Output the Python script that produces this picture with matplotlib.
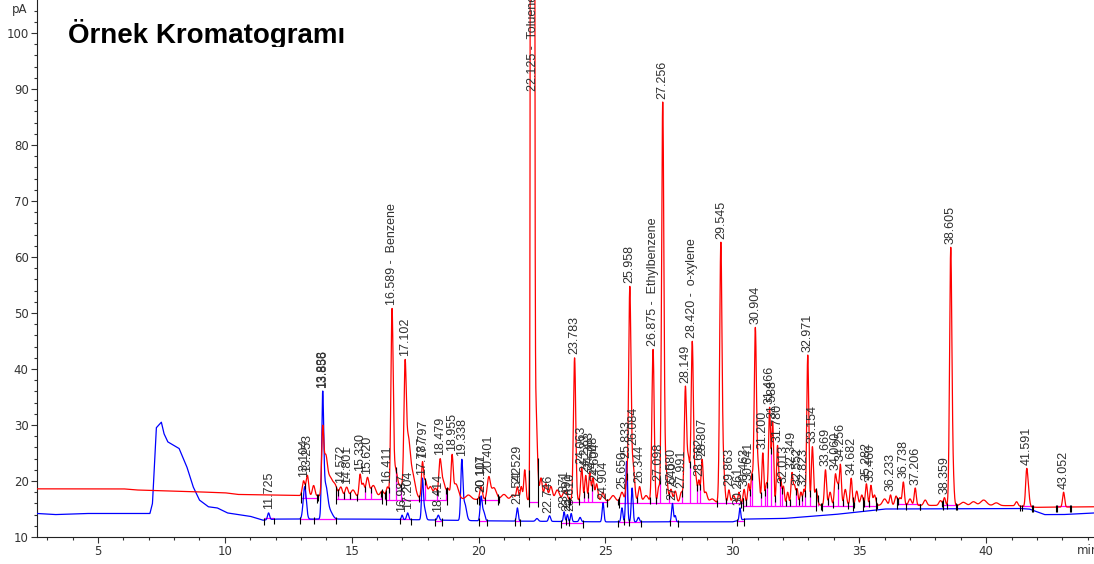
import numpy as np
import matplotlib.pyplot as plt
from matplotlib.ticker import MultipleLocator
from matplotlib.transforms import Bbox, TransformedBbox

plt.rcParams['font.family'] = ['Liberation Sans', 'DejaVu Sans']

# ---- red channel: baseline knots (min, pA) and peaks (time, apex pA, sigma min)
red_base_t = [2.6, 6.0, 6.5, 8.0, 10.0, 10.5, 13.0, 20.0, 25.0, 29.0, 33.0, 41.0, 42.0, 44.3]
red_base_v = [18.6, 18.6, 18.4, 18.2, 17.9, 17.6, 17.4, 16.7, 16.5, 16.1, 15.7, 15.6, 15.3, 15.4]

red_pk_t = [13.104, 13.253, 13.5, 13.856, 13.97, 14.15, 14.35, 14.572, 14.801, 15.05,
            15.330, 15.45, 15.620, 15.85, 16.2, 16.411, 16.589, 16.72, 16.95, 17.102,
            17.22, 17.4, 17.787, 17.9, 18.1, 18.3, 18.479, 18.6, 18.8, 18.955,
            19.1, 19.6, 20.1, 20.401, 20.6, 21.0, 21.35, 21.529, 21.68, 21.82,
            22.125, 22.25, 22.46, 22.65, 22.85, 23.1, 23.4, 23.783, 24.063, 24.223,
            24.383, 24.508, 24.65, 24.9, 25.3, 25.65, 25.833, 25.958, 26.084, 26.344,
            26.6, 26.875, 27.098, 27.256, 27.38, 27.58, 27.75, 27.991, 28.149, 28.27,
            28.420, 28.55, 28.682, 28.807, 28.95, 29.2, 29.545, 29.65, 29.863, 30.05,
            30.261, 30.463, 30.641, 30.77, 30.904, 31.02, 31.200, 31.34, 31.466, 31.588,
            31.780, 31.9, 32.013, 32.18, 32.349, 32.45, 32.552, 32.7, 32.823, 32.971,
            33.154, 33.3, 33.669, 33.85, 34.060, 34.15, 34.256, 34.45, 34.682, 34.9,
            35.1, 35.282, 35.460, 35.6, 36.0, 36.233, 36.45, 36.6, 36.738, 37.0,
            37.206, 37.6, 38.2, 38.359, 38.605, 38.7, 39.1, 39.5, 39.9, 40.4,
            41.2, 41.591, 41.65, 43.052]
red_pk_v = [20.0, 21.0, 19.2, 28.0, 24.0, 20.5, 19.0, 18.9, 18.9, 18.4,
            21.1, 19.5, 20.5, 19.2, 18.2, 18.9, 49.5, 22.0, 19.0, 37.5,
            27.0, 21.0, 22.9, 20.0, 19.0, 18.6, 22.9, 20.0, 18.5, 23.75,
            19.5, 17.5, 19.0, 20.5, 18.8, 17.6, 17.5, 18.9, 19.0, 22.0,
            3000.0, 34.0, 20.5, 19.5, 19.0, 18.4, 18.3, 42.0, 22.5, 21.0,
            21.5, 20.5, 19.5, 18.0, 17.4, 18.0, 20.0, 54.0, 23.0, 19.0,
            17.4, 43.5, 18.9, 87.0, 22.0, 18.5, 18.2, 18.0, 36.5, 24.0,
            44.7, 21.0, 20.0, 23.75, 18.0, 16.8, 62.0, 22.0, 18.4, 17.4,
            18.0, 18.5, 19.5, 21.0, 47.0, 22.0, 25.0, 19.5, 33.0, 30.5,
            26.3, 20.5, 19.0, 18.0, 21.4, 19.0, 18.5, 18.0, 18.5, 42.5,
            26.1, 18.5, 22.0, 18.0, 21.0, 19.0, 22.9, 18.5, 20.5, 18.2,
            17.5, 19.5, 19.2, 17.5, 16.8, 17.5, 17.3, 17.0, 19.8, 16.8,
            18.75, 16.6, 16.5, 17.0, 61.5, 20.0, 16.2, 16.3, 16.6, 16.1,
            16.3, 20.5, 18.5, 18.0]
red_pk_w = [0.05, 0.05, 0.05, 0.04, 0.07, 0.1, 0.08, 0.06, 0.06, 0.08,
            0.04, 0.05, 0.06, 0.1, 0.08, 0.05, 0.045, 0.08, 0.1, 0.045,
            0.08, 0.1, 0.04, 0.06, 0.08, 0.06, 0.05, 0.08, 0.06, 0.04,
            0.1, 0.1, 0.05, 0.06, 0.1, 0.1, 0.08, 0.04, 0.04, 0.04,
            0.035, 0.06, 0.05, 0.06, 0.06, 0.08, 0.08, 0.045, 0.04, 0.04,
            0.04, 0.04, 0.05, 0.05, 0.08, 0.06, 0.04, 0.045, 0.06, 0.05,
            0.08, 0.045, 0.04, 0.045, 0.06, 0.05, 0.05, 0.05, 0.045, 0.05,
            0.045, 0.05, 0.04, 0.04, 0.06, 0.1, 0.045, 0.05, 0.04, 0.06,
            0.04, 0.04, 0.04, 0.04, 0.045, 0.05, 0.04, 0.04, 0.04, 0.04,
            0.04, 0.04, 0.04, 0.04, 0.04, 0.04, 0.04, 0.04, 0.04, 0.04,
            0.04, 0.05, 0.04, 0.05, 0.04, 0.04, 0.04, 0.05, 0.04, 0.05,
            0.05, 0.04, 0.04, 0.05, 0.08, 0.04, 0.05, 0.05, 0.04, 0.06,
            0.04, 0.06, 0.06, 0.04, 0.045, 0.04, 0.1, 0.1, 0.12, 0.1,
            0.05, 0.04, 0.05, 0.04]

# ---- blue channel
blue_base_t = [2.6, 3.3, 4.5, 7.05, 7.15, 7.3, 7.5, 7.6, 7.75, 8.2, 8.5, 8.75, 9.0, 9.35,
               9.7, 10.1, 11.0, 11.5, 12.0, 16.0, 20.0, 25.0, 30.0, 30.5, 32.0, 34.0,
               36.0, 41.3, 41.7, 42.3, 43.0, 44.3]
blue_base_v = [14.2, 14.0, 14.2, 14.2, 16.0, 29.5, 30.5, 28.5, 27.0, 25.8, 22.6, 19.0, 16.6, 15.4,
               15.2, 14.3, 13.7, 13.0, 13.2, 13.2, 12.9, 12.7, 12.7, 13.2, 13.3, 14.0,
               15.0, 15.1, 15.0, 14.0, 14.0, 14.3]

blue_pk_t = [11.725, 13.15, 13.856, 13.97, 14.15, 16.987, 17.204, 17.787, 17.87, 18.414,
             19.338, 19.45, 20.1, 20.2, 21.529, 22.3, 22.796, 23.371, 23.5, 23.65,
             24.0, 24.904, 25.650, 25.833, 26.05, 26.3, 27.64, 27.75, 30.3]
blue_pk_v = [14.3, 19.0, 33.9, 19.0, 14.5, 13.9, 14.3, 20.0, 15.0, 13.9,
             23.0, 16.0, 17.1, 14.5, 15.2, 13.3, 13.8, 14.5, 14.0, 14.2,
             13.5, 16.1, 15.2, 23.5, 18.75, 13.5, 16.0, 13.8, 15.2]
blue_pk_w = [0.04, 0.06, 0.04, 0.08, 0.1, 0.03, 0.04, 0.035, 0.05, 0.04,
             0.04, 0.07, 0.04, 0.05, 0.035, 0.05, 0.04, 0.03, 0.03, 0.03,
             0.04, 0.035, 0.035, 0.035, 0.035, 0.04, 0.035, 0.03, 0.03]

# integration baselines (start, end, level) and drop-line positions
red_span = [(13.0, 13.65, 16.9), (14.4, 16.2, 16.8), (16.35, 18.75, 16.6), (20.0, 20.75, 16.6),
            (22.0, 22.33, 16.3), (23.55, 25.05, 16.3), (25.55, 30.4, 16.0), (30.4, 33.3, 15.5),
            (33.55, 34.75, 15.5), (35.15, 35.65, 15.6), (36.5, 37.4, 15.9), (38.3, 38.8, 15.7),
            (41.35, 41.8, 15.6), (42.8, 43.35, 15.5)]
red_drop = [13.2, 13.65, 14.4, 14.7, 14.95, 15.25, 15.5, 15.75, 16.2, 16.35, 16.5, 16.68,
            17.0, 17.7, 17.85, 18.4, 18.75, 20.0, 20.3, 20.75, 23.55, 23.9,
            24.15, 24.3, 24.45, 25.05, 25.55, 25.9, 26.2, 26.8, 26.95, 27.2, 27.5, 28.05,
            28.3, 28.6, 28.75, 29.45, 29.7, 30.4, 30.55, 30.7, 30.82, 31.1, 31.3, 31.4,
            31.53, 31.7, 31.85, 31.95, 32.1, 32.25, 32.5, 32.65, 32.75, 32.9, 33.07, 33.3,
            33.55, 33.8, 34.0, 34.15, 34.4, 34.6, 34.75, 35.15, 35.37, 35.65, 36.5, 36.9,
            37.4, 38.3, 38.5, 38.8, 41.35, 41.8, 42.8, 43.35]
blue_span = [(11.55, 11.95, 13.4), (12.95, 14.4, 13.2), (16.9, 17.35, 13.2), (18.3, 18.55, 12.8),
             (20.0, 20.35, 12.9), (21.45, 21.65, 12.8), (23.25, 24.1, 12.5), (25.5, 26.4, 12.7),
             (27.55, 27.85, 12.8), (30.2, 30.45, 12.8)]
blue_drop = [13.5, 23.45, 23.58, 25.75, 25.95]

red_labels = ['13.104', '13.253', '14.572', '14.801', '15.330', '15.620', '16.411',
              '16.589 -  Benzene', '17.102', '17.797', '18.479', '18.955', '20.401', '21.529',
              '23.783', '24.063', '24.223', '24.383', '24.508', '24.604', '25.650', '25.958',
              '26.084', '26.344', '26.875 -  Ethylbenzene', '27.098', '27.256', '27.580',
              '27.991', '28.149', '28.420 -  o-xylene', '28.682', '28.807', '29.545', '29.863',
              '30.463', '30.641', '30.904', '31.200', '31.466', '31.588', '31.780', '32.013',
              '32.349', '32.552', '32.823', '32.971', '33.154', '33.669', '34.060', '34.256',
              '34.682', '35.282', '35.460', '36.233', '36.738', '37.206', '38.359', '38.605',
              '41.591', '43.052']
blue_labels = ['11.725', '13.838', '13.856', '16.987', '17.204', '17.787', '18.414', '19.338',
               '20.101', '20.117', '21.542', '22.746', '23.371', '23.491', '23.610', '24.904',
               '25.833', '27.640', '30.261']
toluene_label = '22.125 -  Toluene'
toluene_label_v = 89.0

t = np.arange(2.6, 44.3, 0.004)


def trace(bt, bv, pt, pv, pw):
    y = np.interp(t, bt, bv)
    for a, v, w in zip(pt, pv, pw):
        h = max(v - np.interp(a, bt, bv), 0.2)
        y = y + h * np.exp(-0.5 * ((t - a) / w) ** 2)
    return y


def valley(sig, d, win=0.06):
    m = (t > d - win) & (t < d + win)
    return t[np.argmin(np.where(m, sig, np.inf))]


red = trace(red_base_t, red_base_v, red_pk_t, red_pk_v, red_pk_w)
blue = trace(blue_base_t, blue_base_v, blue_pk_t, blue_pk_v, blue_pk_w)

fig = plt.figure(figsize=(10.94, 5.64), dpi=100)
ax = fig.add_axes([37 / 1094, 27 / 564, 1057 / 1094, 537 / 564])

ax.plot(t, blue, color='#0000ff', lw=0.9, zorder=3)
ax.plot(t, red, color='#ff0000', lw=0.9, zorder=3)


def integration(sig, spans, drops):
    for a, b, lev in spans:
        ax.hlines(lev, a, b, color='#ff00ff', lw=0.9, zorder=2)
        for e in (a, b):
            s = np.interp(e, t, sig)
            ax.vlines(e, min(lev, s) - 0.9, s + 0.3, color='black', lw=0.8, zorder=4)
    for d in drops:
        lev = [sp[2] for sp in spans if sp[0] <= d <= sp[1]]
        if not lev:
            continue
        d = valley(sig, d)
        s = np.interp(d, t, sig)
        ax.vlines(d, lev[0], s, color='#ff00ff', lw=0.9, zorder=2)
        ax.vlines(d, s - 0.9, s + 0.3, color='black', lw=0.8, zorder=4)


integration(red, red_span, red_drop)
integration(blue, blue_span, blue_drop)


def label(sig, txt, v=None):
    a = float(txt.split()[0])
    if v is None:
        m = (t > a - 0.03) & (t < a + 0.03)
        v = sig[m].max()
    ax.annotate(txt, (a, v), xytext=(0, 2.5), textcoords='offset points',
                rotation=90, ha='center', va='bottom', fontsize=9,
                color='#303030', zorder=5, annotation_clip=False)


for s in red_labels:
    label(red, s)
for s in blue_labels:
    label(blue, s)
label(red, toluene_label, toluene_label_v)

ax.set_xlim(2.6, 44.25)
ax.set_ylim(10, 105.9)
ax.xaxis.set_major_locator(MultipleLocator(5))
ax.xaxis.set_minor_locator(MultipleLocator(1))
ax.yaxis.set_major_locator(MultipleLocator(10))
ax.yaxis.set_minor_locator(MultipleLocator(2))
ax.tick_params(which='major', length=4, width=0.8, color='#333333', labelsize=8.5,
               labelcolor='#333333', pad=2)
ax.tick_params(which='minor', length=2.5, width=0.8, color='#333333')
for lab in ax.get_xticklabels() + ax.get_yticklabels():
    lab.set_family('DejaVu Sans')
ax.spines['top'].set_visible(False)
ax.spines['right'].set_visible(False)
ax.spines['left'].set_color('#222222')
ax.spines['bottom'].set_color('#222222')

fig.text(20 / 1094, 1 - 10 / 564, 'pA', fontsize=8.5, color='#333333', family='DejaVu Sans',
         ha='center', va='center')
fig.text(1077 / 1094, 1 - 551 / 564, 'min', fontsize=8.5, color='#333333', family='DejaVu Sans',
         ha='left', va='center')

title = fig.text(68 / 1094, 1 - 43 / 564, 'Örnek Kromatogramı', fontsize=20, weight='bold',
                 color='black', ha='left', va='baseline')
title.set_clip_box(TransformedBbox(Bbox([[0, 1 - 47 / 564], [1, 1]]), fig.transFigure))
title.set_clip_on(True)

fig.savefig('out.png', dpi=100)
